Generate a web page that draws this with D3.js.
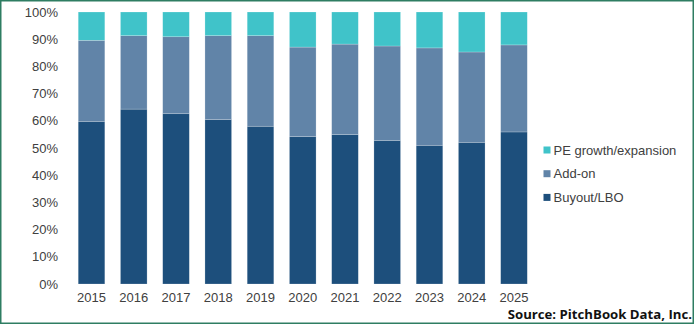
<!DOCTYPE html>
<html><head><meta charset="utf-8">
<script src="https://cdn.jsdelivr.net/npm/d3@7"></script>
<style>body{margin:0;background:#fff}svg{display:block}</style>
</head><body>
<script>
const years = ["2015","2016","2017","2018","2019","2020","2021","2022","2023","2024","2025"];
const buyout = [59.8,64.3,62.6,60.5,58.0,54.2,54.9,52.8,51.0,52.1,55.9];
const addon  = [29.8,27.0,28.3,30.8,33.3,32.9,33.3,34.7,35.8,33.2,32.0];
const growth = [10.4,8.7,9.1,8.7,8.7,12.9,11.8,12.5,13.2,14.7,12.1];
const seriesNames = ["Buyout/LBO","Add-on","PE growth/expansion"];
const colors = ["#1d4f7c","#6184a8","#40c3c9"];
const yTicks = [0,10,20,30,40,50,60,70,80,90,100];

const W=695,H=325;
const svg=d3.select("body").append("svg").attr("width",W).attr("height",H);
svg.append("rect").attr("x",0.75).attr("y",0.75).attr("width",W-2.5).attr("height",H-2.5)
  .attr("fill","#fff").attr("stroke","#2e7d62").attr("stroke-width",1.5);

const x=d3.scaleBand().domain(years).range([70.4,535.1]).paddingInner(0.37).paddingOuter(0.185);
const y=d3.scaleLinear().domain([0,100]).range([284,12]);

const rows=years.map((yr,i)=>({year:yr,"Buyout/LBO":buyout[i],"Add-on":addon[i],"PE growth/expansion":growth[i]}));
const stack=d3.stack().keys(seriesNames)(rows);

svg.append("g").selectAll("g").data(stack).join("g").attr("fill",(d,i)=>colors[i])
  .selectAll("rect").data(d=>d).join("rect")
  .attr("x",d=>x(d.data.year)).attr("width",x.bandwidth())
  .attr("y",d=>y(Math.min(d[1],100))).attr("height",d=>y(d[0])-y(Math.min(d[1],100)))
  .attr("stroke","rgba(255,255,255,0.35)").attr("stroke-width",0.6);

const font="'Liberation Sans', Arial, sans-serif";
const yAxis=svg.append("g").attr("transform","translate(66,0)")
  .call(d3.axisLeft(y).tickValues(yTicks).tickFormat(d=>d+"%").tickSize(0).tickPadding(8));
yAxis.select(".domain").remove();
yAxis.selectAll("text").attr("font-family",font).attr("font-size",13).attr("fill","#404040");

const xAxis=svg.append("g").attr("transform","translate(0,284)")
  .call(d3.axisBottom(x).tickSize(0).tickPadding(9));
xAxis.select(".domain").remove();
xAxis.selectAll("text").attr("font-family",font).attr("font-size",13).attr("fill","#404040");

const legendOrder=["PE growth/expansion","Add-on","Buyout/LBO"];
const lg=svg.append("g").selectAll("g").data(legendOrder).join("g")
  .attr("transform",(d,i)=>`translate(543.5,${150+i*23.7})`);
lg.append("rect").attr("x",0).attr("y",-3.5).attr("width",7).attr("height",7)
  .attr("fill",d=>colors[seriesNames.indexOf(d)]);
lg.append("text").attr("x",10).attr("dy","0.35em").text(d=>d)
  .attr("font-family",font).attr("font-size",13).attr("fill","#404040");

svg.append("text").attr("x",692).attr("y",319).attr("text-anchor","end")
  .attr("font-family","'Open Sans', sans-serif").attr("font-weight","bold").attr("font-size",13.2)
  .attr("fill","#111").text("Source: PitchBook Data, Inc.");
</script>
</body></html>
